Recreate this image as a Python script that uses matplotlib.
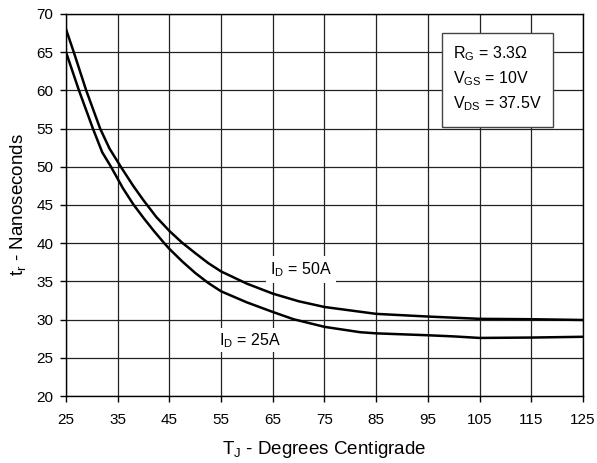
import numpy as np
import matplotlib
matplotlib.use("Agg")
import matplotlib.pyplot as plt
from matplotlib.patches import Rectangle

plt.rcParams['font.family'] = ['Liberation Sans', 'DejaVu Sans']
plt.rcParams['mathtext.fontset'] = 'custom'
plt.rcParams['mathtext.rm'] = 'Liberation Sans'
plt.rcParams['mathtext.it'] = 'Liberation Sans'

# rise time vs junction temperature
tj_50 = [25, 26.5, 28.9, 31.6, 33.4, 35.6, 38, 40, 42.5, 45, 47.4, 50, 52.5, 55, 60, 65, 70, 75, 85, 95, 105, 115, 125]
tr_50 = [68.0, 65.0, 60.0, 55.0, 52.4, 50.0, 47.5, 45.6, 43.4, 41.6, 40.1, 38.7, 37.4, 36.3, 34.7, 33.4, 32.4, 31.65, 30.75, 30.4, 30.1, 30.05, 29.95]

tj_25 = [25, 27.5, 30.2, 32, 33.7, 36, 38, 40, 42, 44, 45, 47.5, 50, 52.5, 55, 60, 65, 69, 75, 81.9, 85, 95, 100, 105, 115, 125]
tr_25 = [65.0, 60.0, 55.0, 51.9, 50.0, 47.2, 45.1, 43.3, 41.6, 40.0, 39.25, 37.6, 36.1, 34.8, 33.7, 32.25, 31.0, 30.05, 29.05, 28.35, 28.2, 27.95, 27.8, 27.6, 27.65, 27.75]

xticks = np.arange(25, 126, 10)
yticks = np.arange(20, 71, 5)

fig = plt.figure(figsize=(5.97, 4.63), dpi=100)
ax = fig.add_axes([0.1106, 0.1447, 0.8659, 0.8251])

ax.plot(tj_50, tr_50, color='black', linewidth=1.8, zorder=3)
ax.plot(tj_25, tr_25, color='black', linewidth=1.8, zorder=3)

ax.set_xlim(25, 125)
ax.set_ylim(20, 70)
ax.set_xticks(xticks)
ax.set_yticks(yticks)
ax.grid(True, color='#222222', linewidth=0.9)
ax.set_axisbelow(True)
for s in ax.spines.values():
    s.set_linewidth(1.0)
ax.tick_params(direction='out', length=4, width=1.0, labelsize=11)
ax.tick_params(axis='x', pad=8)
ax.tick_params(axis='y', pad=5)

ax.set_xlabel(r'$\mathregular{T_J}$ - Degrees Centigrade', fontsize=13.5, labelpad=9)
ax.set_ylabel(r'$\mathregular{t_r}$ - Nanoseconds', fontsize=13.5, labelpad=6)

ax.text(70.5, 36.6, r'$\mathregular{I_D}$ = 50A', fontsize=11.5, ha='center', va='center',
        bbox=dict(facecolor='white', edgecolor='none', pad=3), zorder=2)
ax.text(60.6, 27.3, r'$\mathregular{I_D}$ = 25A', fontsize=11.5, ha='center', va='center',
        bbox=dict(facecolor='white', edgecolor='none', pad=2), zorder=2)

ax.add_patch(Rectangle((0.727, 0.704), 0.215, 0.246, transform=ax.transAxes,
                       facecolor='white', edgecolor='#444444', linewidth=1.0, zorder=4))
params = [r'$\mathregular{R_G}$ = 3.3Ω', r'$\mathregular{V_{GS}}$ = 10V', r'$\mathregular{V_{DS}}$ = 37.5V']
for i, p in enumerate(params):
    ax.text(0.748, 0.895 - i * 0.0655, p, transform=ax.transAxes, fontsize=11.5,
            ha='left', va='center', zorder=5)

fig.savefig('out.png', dpi=100)
